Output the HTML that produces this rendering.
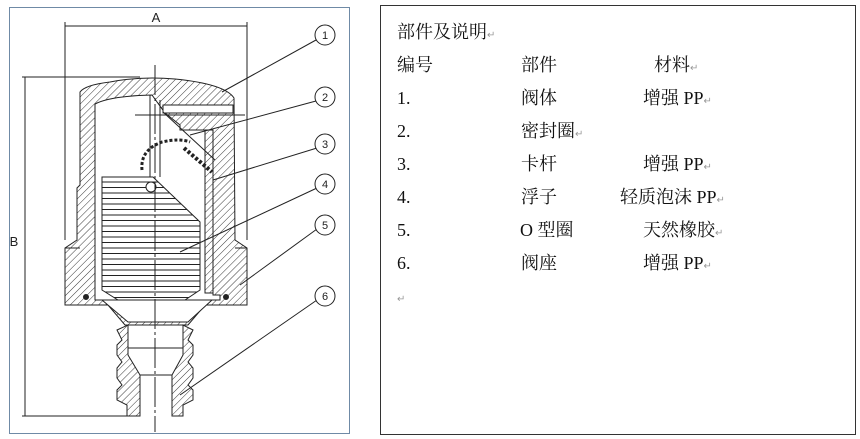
<!DOCTYPE html>
<html><head><meta charset="utf-8"><style>
body{margin:0;width:860px;height:439px;background:#fff;position:relative;overflow:hidden;font-family:"Liberation Serif","Noto Serif CJK SC","Noto Sans CJK SC",serif;}
#lb{position:absolute;left:9px;top:7px;width:341px;height:427px;border:1.5px solid #6f8aa6;box-sizing:border-box;}
#rb{position:absolute;left:380px;top:5px;width:476px;height:430px;border:1.5px solid #333;box-sizing:border-box;}
.t{position:absolute;font-size:18px;color:#111;white-space:nowrap;line-height:20px;}
.r{color:#999;font-size:10px;}
</style></head><body>
<div id="lb"></div>
<svg style="position:absolute;left:0;top:0" width="360" height="439">
<defs><pattern id="h" patternUnits="userSpaceOnUse" width="5" height="5" patternTransform="rotate(45)"><line x1="0" y1="0" x2="0" y2="5" stroke="#222" stroke-width="0.9"/></pattern>
<pattern id="hz" patternUnits="userSpaceOnUse" width="6" height="5.5"><line x1="0" y1="0.5" x2="6" y2="0.5" stroke="#222" stroke-width="1"/></pattern></defs>
<g stroke="#222" stroke-width="1" fill="none">
<!-- dimensions -->
<line x1="65" y1="26" x2="247" y2="26"/><line x1="65" y1="22" x2="65" y2="240"/><line x1="247" y1="22" x2="247" y2="240"/>
<line x1="25" y1="77" x2="25" y2="416"/><line x1="22" y1="77" x2="140" y2="77"/><line x1="22" y1="416" x2="130" y2="416"/>
<!-- body outer -->
<path fill="url(#h)" d="M80,92 Q85,85 110,82 Q140,76 175,79 Q225,84 234,98 L235,240 L247,248 L247,305 L205,305 L188,325 L125,325 L108,305 L65,305 L65,248 L77,240 L77,188 L80,185 Z"/>
<!-- cavity -->
<path fill="#fff" d="M95,104 Q110,96 152,95 L165,113 L180,125 L180,130 L213,130 L213,295 L220,295 L220,300 L95,300 Z"/>
<path fill="#fff" d="M163,105 L233,105 L233,113 L163,113 Z"/>
<path fill="#fff" d="M102,300 L212,300 L188,322 L128,322 Z"/>
<rect x="205" y="130" width="8" height="163" fill="url(#h)"/>
<line x1="65" y1="248" x2="80" y2="248"/><line x1="235" y1="248" x2="247" y2="248"/>
<!-- stem -->
<path fill="url(#h)" d="M117,330 L128,325 L128,355 L140,375 L140,416 L127,416 L127,405 L117,400 L117,390 L122,385 L117,378 L117,368 L122,362 L117,355 L117,345 L122,340 Z"/>
<path fill="url(#h)" d="M193,330 L183,325 L183,355 L172,375 L172,416 L183,416 L183,405 L193,400 L193,390 L188,385 L193,378 L193,368 L188,362 L193,355 L193,345 L188,340 Z"/>
<line x1="128" y1="348" x2="183" y2="348"/><line x1="140" y1="375" x2="172" y2="375"/>
<!-- float -->
<path fill="url(#hz)" fill-opacity="1" d="M102,177 L153,177 L200,222 L200,290 L185,300 L118,300 L102,290 Z"/>
<!-- rod/seal -->
<line x1="150" y1="95" x2="150" y2="177"/><line x1="160" y1="100" x2="160" y2="177"/>
<line x1="135" y1="115" x2="245" y2="115"/>
<path d="M142,170 Q140,150 162,142 Q180,138 190,142" stroke-width="3" stroke-dasharray="3 2"/>
<path d="M184,148 L212,172" stroke-width="4" stroke-dasharray="3 2"/>
<line x1="163" y1="112" x2="215" y2="160"/>
<circle cx="151" cy="187" r="5" fill="#fff"/>
<line x1="155" y1="65" x2="155" y2="432" stroke-dasharray="30 3 3 3"/>
<circle cx="86" cy="297" r="2.5" fill="#222"/><circle cx="226" cy="297" r="2.5" fill="#222"/>
<!-- leaders -->
<line x1="316" y1="40" x2="222" y2="92"/><line x1="316" y1="101" x2="190" y2="135"/><line x1="317" y1="148" x2="213" y2="180"/>
<line x1="317" y1="188" x2="180" y2="252"/><line x1="317" y1="229" x2="240" y2="285"/><line x1="317" y1="300" x2="180" y2="395"/>
<circle cx="325" cy="35" r="10" fill="#fff"/><circle cx="325" cy="97" r="10" fill="#fff"/><circle cx="325" cy="144" r="10" fill="#fff"/>
<circle cx="325" cy="184" r="10" fill="#fff"/><circle cx="325" cy="225" r="10" fill="#fff"/><circle cx="325" cy="296" r="10" fill="#fff"/>
</g>
<g font-family="Liberation Sans, sans-serif" font-size="11" text-anchor="middle" fill="#222">
<text x="325" y="39">1</text><text x="325" y="101">2</text><text x="325" y="148">3</text><text x="325" y="188">4</text><text x="325" y="229">5</text><text x="325" y="300">6</text>
<text x="156" y="22" font-size="13">A</text><text x="14" y="246" font-size="13">B</text>
</g>
</svg>
<div id="rb"></div>
<div class="t" style="left:397px;top:22px">部件及说明<span class="r">↵</span></div>
<div class="t" style="left:397px;top:55px">编号</div><div class="t" style="left:521px;top:55px">部件</div><div class="t" style="left:654px;top:55px">材料<span class="r">↵</span></div>
<div class="t" style="left:397px;top:88px">1.</div><div class="t" style="left:521px;top:88px">阀体</div><div class="t" style="left:643px;top:88px">增强 PP<span class="r">↵</span></div>
<div class="t" style="left:397px;top:121px">2.</div><div class="t" style="left:521px;top:121px">密封圈<span class="r">↵</span></div>
<div class="t" style="left:397px;top:154px">3.</div><div class="t" style="left:521px;top:154px">卡杆</div><div class="t" style="left:643px;top:154px">增强 PP<span class="r">↵</span></div>
<div class="t" style="left:397px;top:187px">4.</div><div class="t" style="left:521px;top:187px">浮子</div><div class="t" style="left:620px;top:187px">轻质泡沫 PP<span class="r">↵</span></div>
<div class="t" style="left:397px;top:220px">5.</div><div class="t" style="left:520px;top:220px">O 型圈</div><div class="t" style="left:643px;top:220px">天然橡胶<span class="r">↵</span></div>
<div class="t" style="left:397px;top:253px">6.</div><div class="t" style="left:521px;top:253px">阀座</div><div class="t" style="left:643px;top:253px">增强 PP<span class="r">↵</span></div>
<div class="t r" style="left:397px;top:290px">↵</div>
</body></html>
